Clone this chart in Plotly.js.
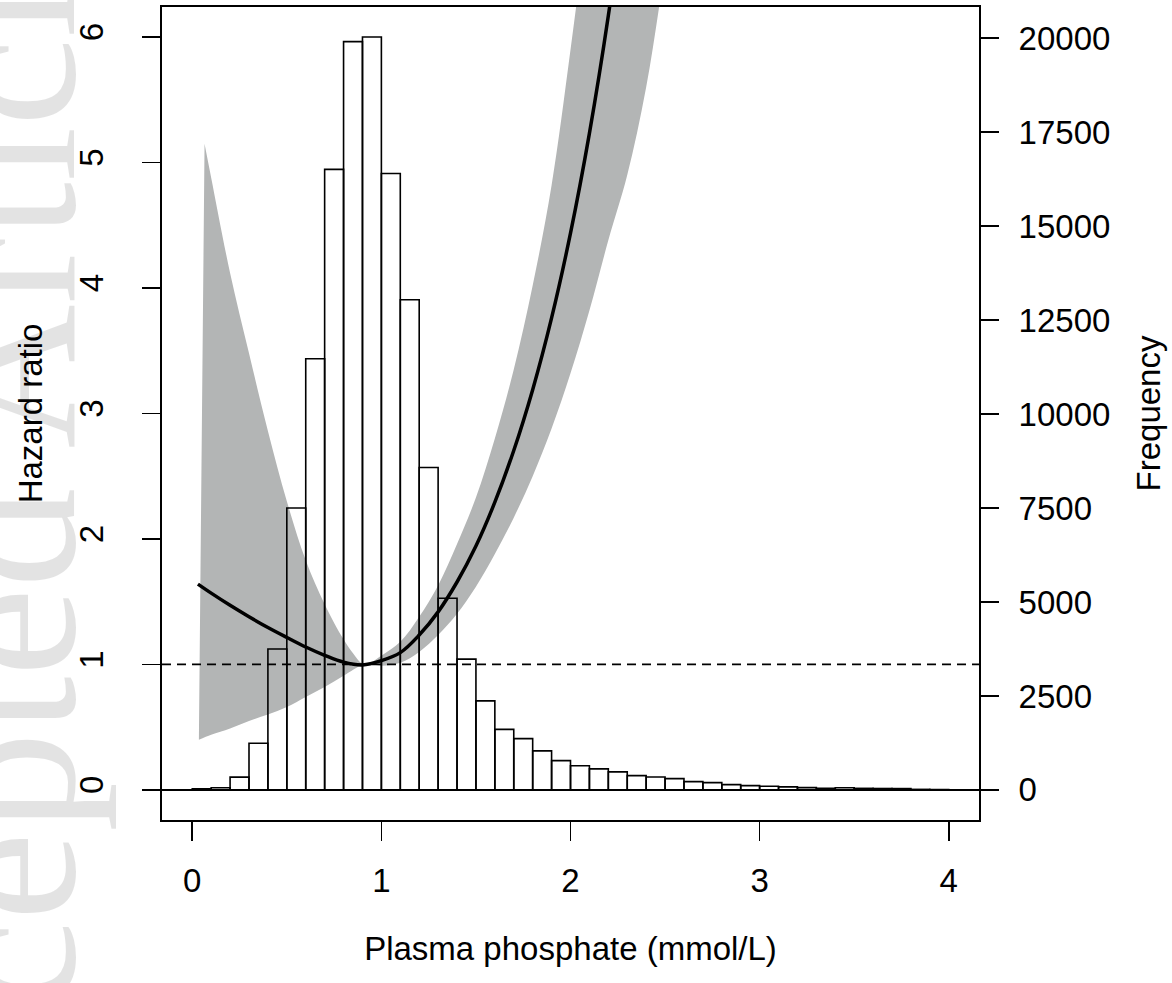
<!DOCTYPE html>
<html>
<head>
<meta charset="utf-8">
<script src="https://cdn.plot.ly/plotly-3.0.1.min.js"></script>
<style>html,body{margin:0;padding:0;background:#fff;}</style>
</head>
<body>
<div id="chart" style="width:1172px;height:983px;"></div>
<script>
// Histogram of plasma phosphate (bin left edges, mmol/L) and counts
const binStarts = [0.0,0.1,0.2,0.3,0.4,0.5,0.6,0.7,0.8,0.9,1.0,1.1,1.2,1.3,1.4,1.5,1.6,1.7,1.8,1.9,
                   2.0,2.1,2.2,2.3,2.4,2.5,2.6,2.7,2.8,2.9,3.0,3.1,3.2,3.3,3.4,3.5,3.6,3.7,3.8,3.9];
const binWidth = 0.1;
const frequency = [30,60,340,1240,3750,7500,11470,16510,19910,20030,16400,13040,8580,5100,3480,2370,1610,1365,1040,780,
                   645,560,480,380,345,300,220,195,140,115,98,80,62,45,60,42,38,36,15,10];

// Hazard ratio curve
const hrX = [0.03,0.1,0.2,0.3,0.4,0.5,0.6,0.7,0.8,0.9,1.0,1.1,1.2,1.3,1.4,1.5,1.6,1.7,1.8,1.9,2.0,2.1,2.2,2.3];
const hr  = [1.64,1.568,1.471,1.38,1.294,1.215,1.139,1.073,1.018,0.996,1.03,1.094,1.234,1.419,1.657,1.944,2.293,2.705,3.19,3.762,4.437,5.233,6.17,7.28];

// 95% confidence band
const lowerX = [0.035,0.1,0.2,0.3,0.4,0.5,0.6,0.7,0.8,0.91,1.0,1.1,1.2,1.3,1.4,1.5,1.6,1.7,1.8,1.9,2.0,2.1,2.2,2.3,2.4,2.5,2.6,2.7];
const lower  = [0.40,0.44,0.49,0.55,0.60,0.66,0.74,0.82,0.91,1.0,0.99,1.013,1.10,1.234,1.404,1.62,1.88,2.17,2.5,2.88,3.32,3.82,4.38,4.9,5.6,6.55,7.5,8.6];
const upperX = [0.065,0.1,0.2,0.3,0.4,0.5,0.6,0.7,0.8,0.85,0.91,1.0,1.1,1.2,1.3,1.4,1.5,1.6,1.7,1.8,1.9,2.0,2.1,2.2];
const upper  = [5.15,4.88,4.12,3.48,2.86,2.30,1.83,1.48,1.20,1.09,1.0,1.07,1.18,1.38,1.63,1.96,2.33,2.80,3.35,4.02,4.82,5.9,7.1,8.5];

const referenceHR = 1;
const xTicks = [0,1,2,3,4];
const hrTicks = [0,1,2,3,4,5,6];
const freqTicks = [0,2500,5000,7500,10000,12500,15000,17500,20000];
const freqTickText = ['0','2500','5000','7500','10000','12500','15000','17500','20000'];

const FONT = 'Liberation Sans, Arial, Helvetica, sans-serif';
const FS = 33;
const bandX = lowerX.concat(upperX.slice().reverse());
const bandY = lower.concat(upper.slice().reverse());

const traces = [
  {
    type: 'scatter', mode: 'lines', x: bandX, y: bandY,
    fill: 'toself', fillcolor: 'rgb(179,181,181)',
    line: {width: 0, color: 'rgba(0,0,0,0)', shape: 'spline', smoothing: 1},
    hoverinfo: 'skip', showlegend: false, xaxis: 'x', yaxis: 'y'
  },
  {
    type: 'scatter', mode: 'lines', x: hrX, y: hr,
    line: {color: '#000', width: 3.5, shape: 'spline', smoothing: 1},
    showlegend: false, xaxis: 'x', yaxis: 'y'
  },
  {
    type: 'bar', x: binStarts, y: frequency, width: binWidth, offset: 0,
    marker: {color: 'rgba(0,0,0,0)', line: {color: '#000', width: 1.6}},
    showlegend: false, xaxis: 'x', yaxis: 'y2'
  }
];

const axisCommon = {
  showgrid: false, ticks: 'outside', tickwidth: 1.6, tickcolor: '#000',
  tickfont: {family: FONT, size: FS, color: '#000'}, linecolor: '#000', linewidth: 1.6
};

const layout = {
  width: 1172, height: 983,
  margin: {l: 162, r: 193, t: 7, b: 163},
  paper_bgcolor: '#fff', plot_bgcolor: 'rgba(0,0,0,0)',
  showlegend: false,
  bargap: 0,
  xaxis: Object.assign({}, axisCommon, {
    range: [-0.16, 4.16], tickmode: 'array', tickvals: xTicks, ticklen: 19, ticklabelstandoff: 12,
    showline: true, mirror: true, zeroline: false,
    title: {text: 'Plasma phosphate (mmol/L)', font: {family: FONT, size: FS, color: '#000'}, standoff: 38}
  }),
  yaxis: Object.assign({}, axisCommon, {
    range: [-0.24, 6.24], tickmode: 'array', tickvals: hrTicks, ticklen: 18, tickangle: -90, ticklabelstandoff: 26,
    showline: true, mirror: true, zeroline: true, zerolinecolor: '#000', zerolinewidth: 1.6,
    title: {text: 'Hazard ratio', font: {family: FONT, size: FS, color: '#000'}, standoff: 20}
  }),
  yaxis2: Object.assign({}, axisCommon, {
    overlaying: 'y', side: 'right', range: [-800, 20830], tickmode: 'array', tickvals: freqTicks, ticktext: freqTickText,
    ticklen: 19, ticklabelstandoff: 13, showline: false, zeroline: false,
    title: {text: 'Frequency', font: {family: FONT, size: FS, color: '#000'}, standoff: 27}
  }),
  shapes: [
    {type: 'line', xref: 'paper', x0: 0, x1: 1, yref: 'y', y0: referenceHR, y1: referenceHR,
     line: {color: '#000', width: 1.8, dash: '9px,6px'}, layer: 'above'}
  ],
  annotations: [
    {text: 'Accepted Article', xref: 'paper', yref: 'paper', x: -0.19, y: 0.31,
     xanchor: 'center', yanchor: 'middle', textangle: -90, showarrow: false,
     font: {family: 'Liberation Serif, Times New Roman, serif', size: 200, color: 'rgba(0,0,0,0.11)'}}
  ]
};

Plotly.newPlot('chart', traces, layout, {displayModeBar: false, staticPlot: true});
</script>
</body>
</html>
